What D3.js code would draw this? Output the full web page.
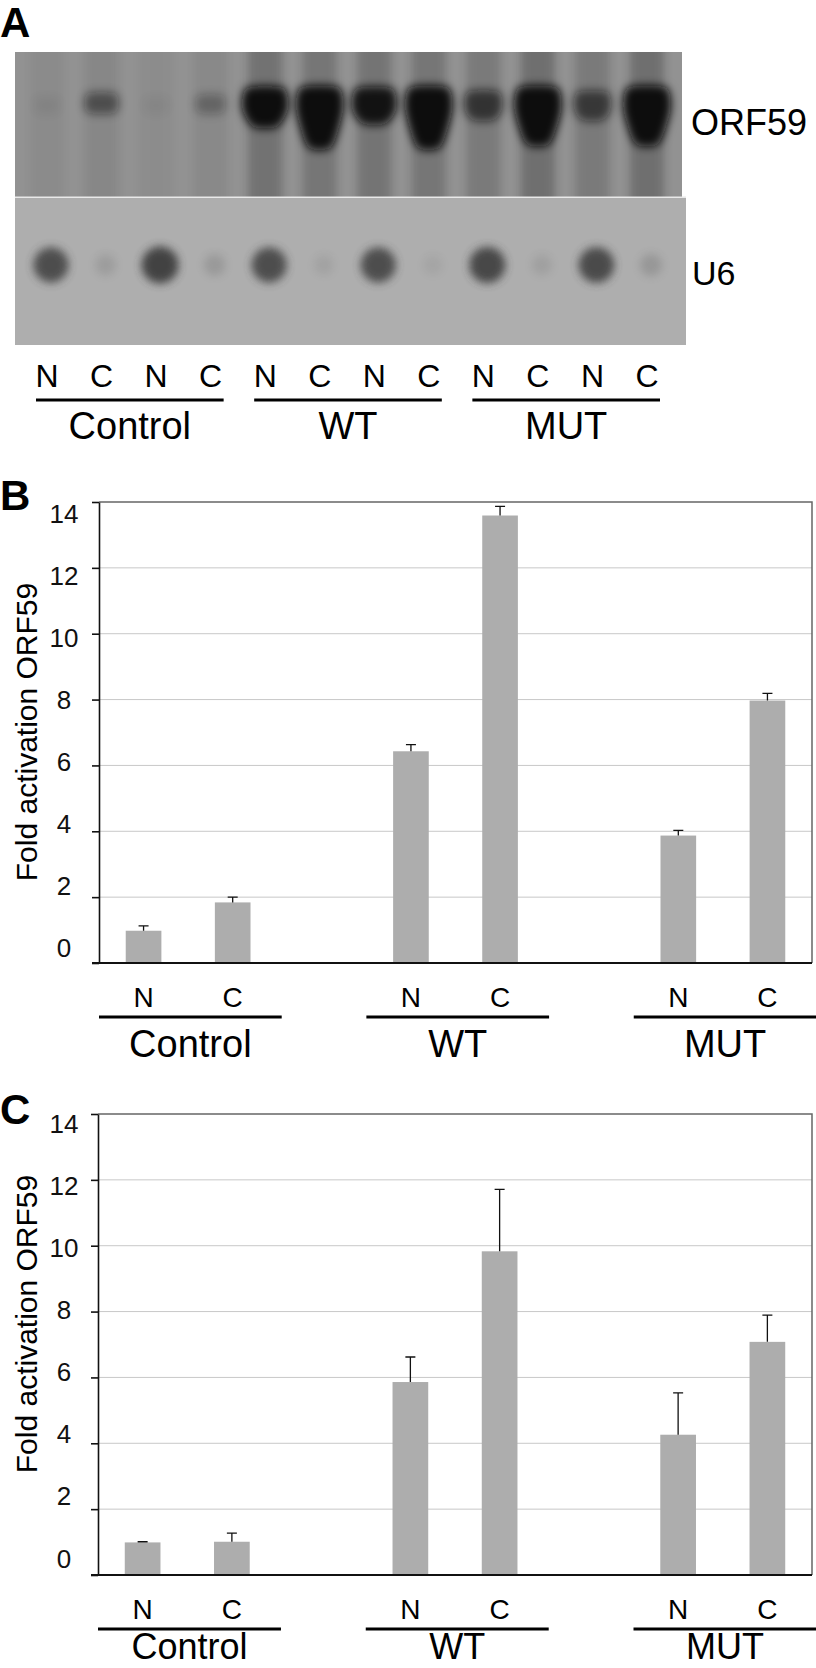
<!DOCTYPE html>
<html>
<head>
<meta charset="utf-8">
<script src="https://cdn.jsdelivr.net/npm/d3@7"></script>
<style>
  html, body { margin: 0; padding: 0; background: white; }
</style>
</head>
<body>
<div id="chart"></div>
<script>

// ---- data ----
const laneLabels = ["N", "C", "N", "C", "N", "C", "N", "C", "N", "C", "N", "C"];
const laneGroups = ["Control", "WT", "MUT"];

// blot signal per lane (0..1, darkness)
const orf59Band   = [0.06, 0.45, 0.05, 0.28, 0.95, 1.0, 0.9, 1.0, 0.62, 1.0, 0.58, 1.0];
const orf59Tail   = [0.0, 0.0, 0.0, 0.0, 0.4, 1.0, 0.3, 1.0, 0.2, 0.9, 0.2, 0.9];
const orf59Smear  = [0.10, 0.16, 0.08, 0.13, 0.48, 0.42, 0.44, 0.42, 0.36, 0.52, 0.36, 0.52];
const u6Signal    = [0.85, 0.15, 0.95, 0.18, 0.85, 0.10, 0.85, 0.08, 0.90, 0.12, 0.88, 0.20];

// bar charts
const groups = ["Control", "WT", "MUT"];
const fractions = ["N", "C"];
const yTicks = [0, 2, 4, 6, 8, 10, 12, 14];

const bValues = [0.98, 1.84, 6.43, 13.59, 3.87, 7.97];
const bErrors = [0.15, 0.16, 0.20, 0.28, 0.16, 0.22];

const cValues = [0.99, 1.01, 5.86, 9.83, 4.26, 7.08];
const cErrors = [0.02, 0.26, 0.76, 1.88, 1.27, 0.81];

// ---- setup ----
const W = 816, H = 1668;
const font = "'Liberation Sans', Arial, Helvetica, sans-serif";

let svg = d3.select('#chart').append('svg')
    .attr('width', W)
    .attr('height', H)
    .style('background', 'white')
    .style('font-family', font);

let defs = svg.append('defs');
[4, 5].forEach(s => {
    defs.append('filter').attr('id', 'blur' + s)
        .attr('x', '-50%').attr('y', '-50%').attr('width', '200%').attr('height', '200%')
        .append('feGaussianBlur').attr('stdDeviation', s);
});
defs.append('clipPath').attr('id', 'clipTop')
    .append('rect').attr('x', 15).attr('y', 52).attr('width', 667).attr('height', 145);
defs.append('clipPath').attr('id', 'clipBot')
    .append('rect').attr('x', 15).attr('y', 197.5).attr('width', 671).attr('height', 147.5);

function panelLetter(t, y) {
    svg.append('text').attr('x', 0).attr('y', y)
        .attr('font-size', 42).attr('font-weight', 'bold')
        .text(t);
}

// ---- panel A: blot ----
panelLetter('A', 37);

let lane = d3.scalePoint().domain(d3.range(laneLabels.length)).range([47, 647]);

// ORF59 blot
let blotTop = svg.append('g').attr('clip-path', 'url(#clipTop)');
blotTop.append('rect').attr('x', 15).attr('y', 52).attr('width', 667).attr('height', 145)
    .attr('fill', '#929292');

blotTop.selectAll('rect.smear')
    .data(orf59Smear)
    .join('rect')
    .attr('class', 'smear')
    .attr('x', (d, i) => lane(i) - 17)
    .attr('y', 40)
    .attr('width', 34)
    .attr('height', 170)
    .attr('fill', '#1a1a1a')
    .attr('opacity', d => d * 0.55)
    .attr('filter', 'url(#blur4)');

// band + downward tail as one blob per lane
let blob = d3.line().curve(d3.curveCardinalClosed.tension(0.2));
blotTop.selectAll('path.band')
    .data(orf59Band.map((b, i) => ({b: b, t: orf59Tail[i], i: i})))
    .join('path')
    .attr('class', 'band')
    .attr('d', d => {
        let c = lane(d.i), w = 12 + 12 * d.b, yc = 104, yt = yc - (6 + 11 * d.b);
        return blob([
            [c - w * 0.75, yt], [c + w * 0.75, yt], [c + w, yc],
            [c + w * 0.85, yc + 8 + 12 * d.t], [c + w * 0.45, yc + 10 + 34 * d.t],
            [c - w * 0.45, yc + 10 + 34 * d.t], [c - w * 0.85, yc + 8 + 12 * d.t], [c - w, yc]
        ]);
    })
    .attr('fill', '#080808')
    .attr('opacity', d => Math.min(1, d.b * 1.05))
    .attr('filter', 'url(#blur5)');

// U6 blot
let blotBot = svg.append('g').attr('clip-path', 'url(#clipBot)');
blotBot.append('rect').attr('x', 15).attr('y', 197.5).attr('width', 671).attr('height', 147.5)
    .attr('fill', '#aeaeae');

blotBot.selectAll('circle')
    .data(u6Signal)
    .join('circle')
    .attr('cx', (d, i) => lane(i) + 4)
    .attr('cy', 265)
    .attr('r', d => 9 + 10 * d)
    .attr('fill', '#3c3c3c')
    .attr('opacity', d => d)
    .attr('filter', 'url(#blur4)');

svg.append('line').attr('x1', 15).attr('x2', 686).attr('y1', 197).attr('y2', 197)
    .attr('stroke', '#e8e8e8').attr('stroke-width', 1.2);

svg.append('text').attr('x', 691).attr('y', 135).attr('font-size', 36).text('ORF59');
svg.append('text').attr('x', 692).attr('y', 285).attr('font-size', 34).text('U6');

svg.selectAll('text.lane')
    .data(laneLabels)
    .join('text')
    .attr('class', 'lane')
    .attr('x', (d, i) => lane(i))
    .attr('y', 387)
    .attr('text-anchor', 'middle')
    .attr('font-size', 32)
    .text(d => d);

laneGroups.forEach((g, k) => {
    let x1 = lane(k * 4) - 11, x2 = lane(k * 4 + 3) + 13;
    svg.append('rect').attr('x', x1).attr('y', 398.5).attr('width', x2 - x1).attr('height', 3)
        .attr('fill', 'black');
    svg.append('text').attr('x', (x1 + x2) / 2).attr('y', 439)
        .attr('text-anchor', 'middle').attr('font-size', 38).text(g);
});

// ---- panels B and C: bar charts ----
function drawBars(cfg, values, errors) {

    let slots = [];
    groups.forEach((g, k) => {
        fractions.forEach(f => slots.push(g + '|' + f));
        if (k < groups.length - 1) slots.push('gap' + k);
    });
    let bars = [];
    groups.forEach((g, k) => fractions.forEach((f, j) => {
        let i = k * fractions.length + j;
        bars.push({key: g + '|' + f, group: g, frac: f, value: values[i], err: errors[i]});
    }));

    let x = d3.scaleBand().domain(slots).range([cfg.left, cfg.right])
        .paddingInner(0.6).paddingOuter(0.3);
    let y = d3.scaleLinear().domain([0, 14]).range([cfg.bottom, cfg.top]);
    // tick numbers sit a little off their ticks in the original
    let yLab = d3.scaleLinear().domain([0, 14]).range([cfg.labelBottom, cfg.labelTop]);
    let step = x.step();
    let cx = key => x(key) + x.bandwidth() / 2;

    let g = svg.append('g');

    // gridlines
    g.selectAll('line.grid')
        .data(yTicks.filter(t => t > 0 && t < 14))
        .join('line')
        .attr('class', 'grid')
        .attr('x1', cfg.left).attr('x2', cfg.right)
        .attr('y1', d => y(d)).attr('y2', d => y(d))
        .attr('stroke', '#c8c8c8').attr('stroke-width', 1);

    // frame top/right
    g.append('path')
        .attr('d', `M${cfg.left},${cfg.top}H${cfg.right}V${cfg.bottom}`)
        .attr('fill', 'none').attr('stroke', '#666').attr('stroke-width', 1.5);

    // bars
    g.selectAll('rect.bar')
        .data(bars)
        .join('rect')
        .attr('class', 'bar')
        .attr('x', d => x(d.key))
        .attr('width', x.bandwidth())
        .attr('y', d => y(d.value))
        .attr('height', d => y(0) - y(d.value))
        .attr('fill', '#adadad');

    // error bars (upper only)
    g.selectAll('path.err')
        .data(bars)
        .join('path')
        .attr('class', 'err')
        .attr('d', d => {
            let c = cx(d.key), y1 = y(d.value), y2 = y(d.value + d.err);
            return `M${c},${y1}V${y2}M${c - 5},${y2}H${c + 5}`;
        })
        .attr('fill', 'none').attr('stroke', '#111').attr('stroke-width', 1.3);

    // y axis
    let axis = g.append('g')
        .attr('transform', `translate(${cfg.left},0)`)
        .call(d3.axisLeft(y).tickValues(yTicks).tickSize(7).tickSizeOuter(0));
    axis.select('.domain').attr('stroke', '#111').attr('stroke-width', 1.6);
    axis.selectAll('.tick line').attr('stroke', '#111').attr('stroke-width', 1.6);
    axis.selectAll('.tick text')
        .attr('font-family', font)
        .attr('font-size', 26)
        .attr('fill', '#111')
        .attr('text-anchor', 'middle')
        .attr('x', 64 - cfg.left)
        .attr('dy', '0.35em')
        .attr('y', d => yLab(d) - y(d));

    // x axis line
    g.append('line')
        .attr('x1', cfg.left - 7).attr('x2', cfg.right)
        .attr('y1', y(0)).attr('y2', y(0))
        .attr('stroke', '#111').attr('stroke-width', 2);

    // y title
    g.append('text')
        .attr('transform', `translate(37,${cfg.titleCy}) rotate(-90)`)
        .attr('text-anchor', 'middle')
        .attr('font-size', 30)
        .text('Fold activation ORF59');

    // category labels
    g.selectAll('text.frac')
        .data(bars)
        .join('text')
        .attr('class', 'frac')
        .attr('x', d => cx(d.key))
        .attr('y', cfg.bottom + 44)
        .attr('text-anchor', 'middle')
        .attr('font-size', 28)
        .text(d => d.frac);

    groups.forEach(gr => {
        let x1 = cx(gr + '|N') - 0.5 * step;
        let x2 = cx(gr + '|C') + 0.55 * step;
        g.append('rect').attr('x', x1).attr('y', cfg.bottom + 52.5)
            .attr('width', x2 - x1).attr('height', 3).attr('fill', 'black');
        g.append('text').attr('x', (x1 + x2) / 2).attr('y', cfg.bottom + cfg.groupDy)
            .attr('text-anchor', 'middle').attr('font-size', cfg.groupSize).text(gr);
    });

    panelLetter(cfg.letter, cfg.letterY);
}

drawBars({left: 99, right: 812, top: 502, bottom: 963, labelTop: 513, labelBottom: 947,
          titleCy: 732, letter: 'B', letterY: 510, groupDy: 94, groupSize: 38}, bValues, bErrors);

// panel C: group names pulled up slightly so they stay inside the page
drawBars({left: 98, right: 812, top: 1114, bottom: 1575, labelTop: 1123, labelBottom: 1558,
          titleCy: 1324, letter: 'C', letterY: 1124, groupDy: 84, groupSize: 36}, cValues, cErrors);

</script>
</body>
</html>
